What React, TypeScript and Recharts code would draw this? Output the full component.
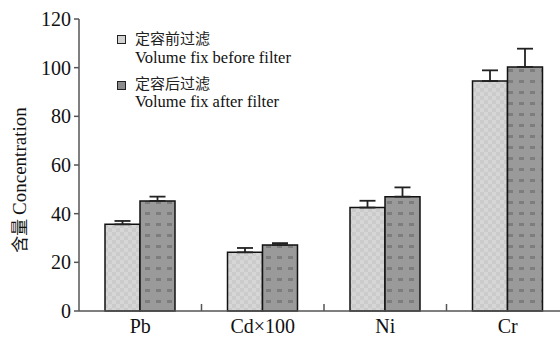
import React from 'react';
import { BarChart, Bar, XAxis, YAxis, ErrorBar } from 'recharts';

const categories = ['Pb', 'Cd×100', 'Ni', 'Cr'];
const beforeValues = [35.6, 24.1, 42.5, 94.5];
const beforeErrors = [1.4, 1.8, 2.8, 4.4];
const afterValues = [45.2, 27.1, 47.0, 100.3];
const afterErrors = [1.8, 0.8, 3.8, 7.5];
const yTicks = [0, 20, 40, 60, 80, 100, 120];
const yLabelZh = '含量';
const yLabelEn = 'Concentration';
const seriesNames = [
  { zh: '定容前过滤', en: 'Volume fix before filter' },
  { zh: '定容后过滤', en: 'Volume fix after filter' },
];

const data = categories.map((c, i) => ({
  name: c,
  before: beforeValues[i],
  beforeErr: [0, beforeErrors[i]],
  after: afterValues[i],
  afterErr: [0, afterErrors[i]],
}));

const SERIF = '"Liberation Serif", "Times New Roman", serif';
const CJK = '"Noto Sans CJK SC", sans-serif';

const XTick = (props: any) => {
  const { x, y, payload, index } = props;
  const off = payload && payload.offset ? payload.offset : 61;
  return (
    <g>
      {index > 0 && (
        <line x1={x - off} x2={x - off} y1={y - 7} y2={y} stroke="#555" strokeWidth={1.5} />
      )}
      <text x={x} y={y + 22} textAnchor="middle" style={{ fontFamily: SERIF }} fontSize={20} fill="#111">
        {payload.value}
      </text>
    </g>
  );
};

const LegendBox = () => (
  <>
    {seriesNames.map((s, i) => (
      <React.Fragment key={i}>
        <div
          style={{
            position: 'absolute',
            left: 117,
            top: 35 + i * 46,
            width: 7,
            height: 7,
            border: '1.5px solid #222',
            background: i === 0 ? '#d2d2d2' : '#8c8c8c',
          }}
        />
        <div
          style={{
            position: 'absolute',
            left: 135,
            top: 28.5 + i * 45,
            fontFamily: CJK,
            fontSize: 15,
            color: '#222',
            height: 18,
            lineHeight: '18px',
            whiteSpace: 'nowrap',
          }}
        >
          {s.zh}
        </div>
        <div
          style={{
            position: 'absolute',
            left: 135,
            top: 49.4 + i * 44,
            fontFamily: SERIF,
            fontSize: 16.5,
            color: '#111',
            height: 17,
            lineHeight: '17px',
            whiteSpace: 'nowrap',
          }}
        >
          {s.en}
        </div>
      </React.Fragment>
    ))}
  </>
);

const YLabel = () => (
  <div
    style={{
      position: 'absolute',
      left: 19 - 90,
      top: 180 - 12,
      width: 180,
      height: 24,
      lineHeight: '24px',
      textAlign: 'center',
      transform: 'rotate(-90deg)',
      transformOrigin: '50% 50%',
      whiteSpace: 'nowrap',
      color: '#111',
    }}
  >
    <span style={{ fontFamily: CJK, fontSize: 17 }}>{yLabelZh} </span>
    <span style={{ fontFamily: SERIF, fontSize: 19 }}>{yLabelEn}</span>
  </div>
);

export default function App() {
  return (
    <div style={{ position: 'absolute', left: 0, top: 0, width: 560, height: 337, overflow: 'hidden', background: '#fff' }}>
      <BarChart
        width={580}
        height={337}
        data={data}
        margin={{ top: 19, right: 11, bottom: 0, left: 0 }}
        barGap={0}
        barSize={35}
      >
        <defs>
          <pattern id="lightPat" width="8" height="8" patternUnits="userSpaceOnUse">
            <rect width="8" height="8" fill="#d6d6d6" />
            <rect x="0" y="0" width="4" height="4" fill="#cbcbcb" />
            <rect x="4" y="4" width="4" height="4" fill="#cbcbcb" />
          </pattern>
          <pattern id="darkPat" width="11" height="11" patternUnits="userSpaceOnUse">
            <rect width="11" height="11" fill="#9a9a9a" />
            <rect x="2" y="3" width="5" height="3" fill="#7d7d7d" />
          </pattern>
        </defs>
        <XAxis
          dataKey="name"
          height={26}
          axisLine={{ stroke: '#555', strokeWidth: 1.5 }}
          tickLine={false}
          tickSize={0}
          tickMargin={0}
          tick={<XTick />}
          interval={0}
        />
        <YAxis
          width={79}
          domain={[0, 120]}
          ticks={yTicks}
          interval={0}
          axisLine={{ stroke: '#555', strokeWidth: 1.5 }}
          tickLine={{ stroke: '#555', strokeWidth: 1.5 }}
          tickSize={5}
          tickMargin={3}
          tick={{ fontFamily: SERIF, fontSize: 20, fill: '#111' }}
        />
        <Bar dataKey="before" fill="url(#lightPat)" stroke="#111" strokeWidth={1.5} isAnimationActive={false}>
          <ErrorBar dataKey="beforeErr" width={8} stroke="#222" strokeWidth={1.8} direction="y" />
        </Bar>
        <Bar dataKey="after" fill="url(#darkPat)" stroke="#111" strokeWidth={1.5} isAnimationActive={false}>
          <ErrorBar dataKey="afterErr" width={8} stroke="#222" strokeWidth={1.8} direction="y" />
        </Bar>
      </BarChart>
      <LegendBox />
      <YLabel />
    </div>
  );
}
